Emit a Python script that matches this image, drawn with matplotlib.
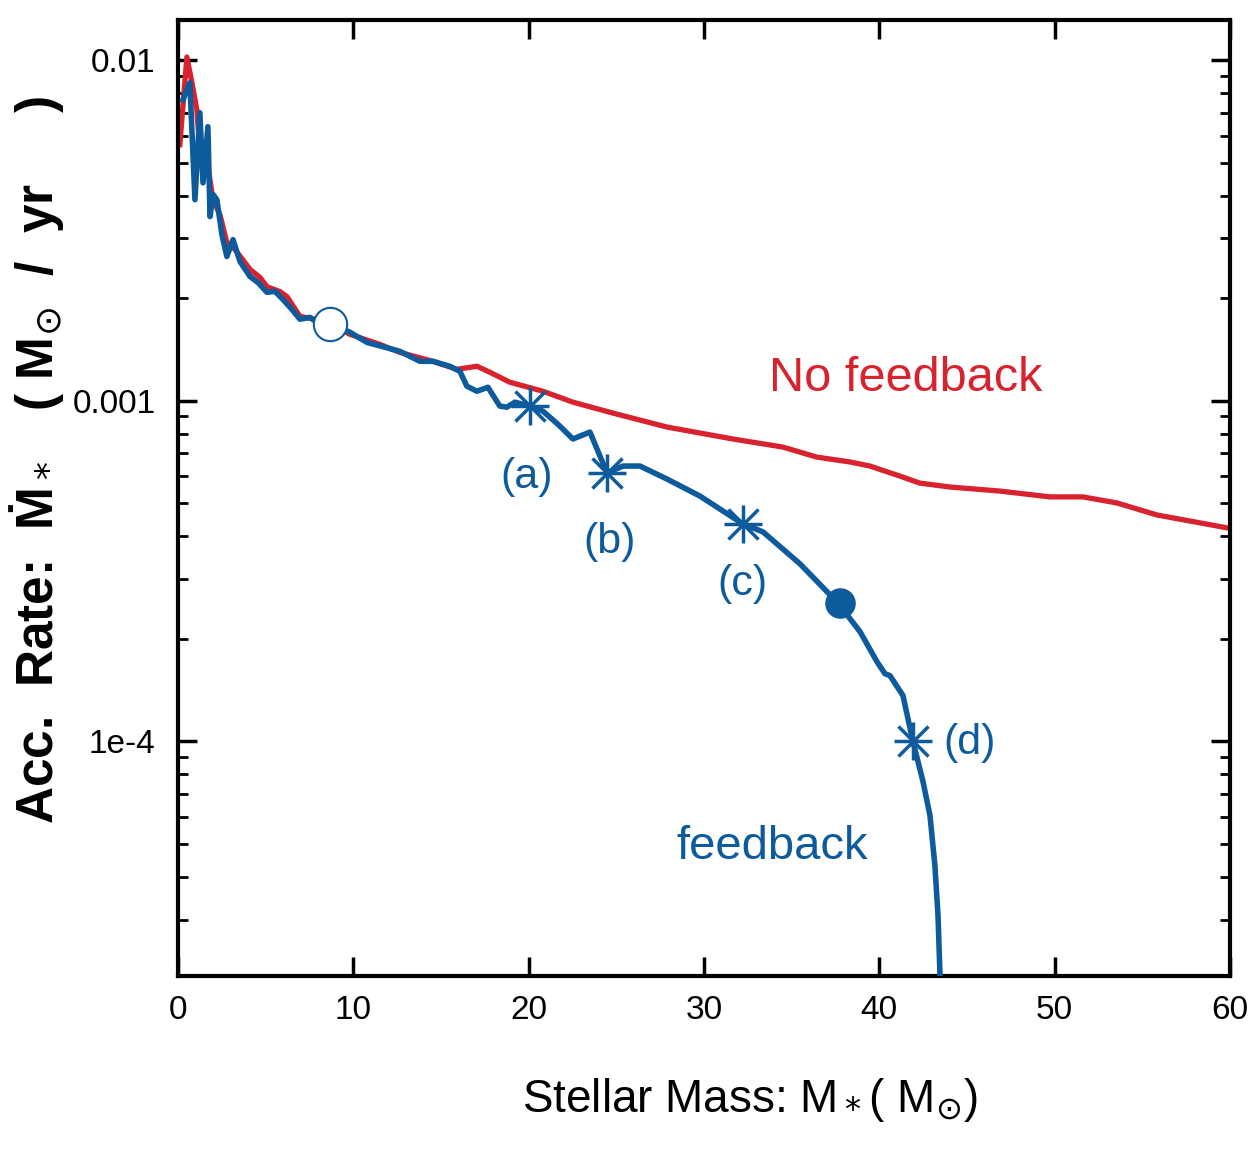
import numpy as np
import matplotlib
matplotlib.use("Agg")
import matplotlib.pyplot as plt
from matplotlib import font_manager

# no feedback run (red)
mass_nofb = [0.11, 0.51, 0.80, 1.08, 1.25, 1.65, 2.0, 2.40, 2.79, 3.25, 4.11, 4.68, 5.08,
             5.82, 6.22, 6.96, 7.81, 8.67, 9.81, 11.52, 12.66, 14.54, 15.91, 17.05, 17.79,
             18.93, 20.82, 22.53, 25.04, 27.89, 31.65, 34.50, 36.44, 38.33, 39.47, 41.17,
             42.31, 44.03, 46.88, 49.73, 51.62, 53.56, 55.84, 59.89, 60.5]
rate_nofb = [0.00564, 0.0102, 0.00857, 0.00714, 0.00545, 0.00510, 0.00389, 0.00351,
             0.00291, 0.00278, 0.00243, 0.00230, 0.00216, 0.00209, 0.00202, 0.001768,
             0.001734, 0.001675, 0.001566, 0.001463, 0.001386, 0.001305, 0.001236,
             0.001262, 0.001212, 0.001133, 0.001066, 0.000990, 0.000913, 0.000837,
             0.000772, 0.000731, 0.000683, 0.000661, 0.000643, 0.000601, 0.000573,
             0.000558, 0.000543, 0.000522, 0.000522, 0.000501, 0.000462, 0.000423, 0.00042]

# feedback run (blue)
mass_fb = [0.29, 0.68, 0.97, 1.25, 1.43, 1.71, 1.83, 2.0, 2.22, 2.51, 2.79, 3.14, 3.54,
           4.11, 4.56, 5.08, 5.53, 5.99, 6.50, 6.96, 7.53, 8.10, 8.67, 9.81, 10.78, 12.66,
           13.80, 14.54, 15.51, 16.08, 16.48, 17.05, 17.68, 18.36, 18.76, 19.22, 20.08,
           20.82, 21.67, 22.53, 23.50, 24.07, 24.47, 25.38, 26.35, 27.89, 29.77, 32.22,
           33.37, 35.48, 37.64, 38.90, 39.87, 40.32, 40.61, 41.35, 41.92, 42.49, 42.89,
           43.17, 43.35, 43.46, 43.6]
rate_fb = [0.00764, 0.00857, 0.00389, 0.00700, 0.00436, 0.00637, 0.00347, 0.00403,
           0.00389, 0.00307, 0.00265, 0.00297, 0.00256, 0.002315, 0.002223, 0.002080,
           0.002094, 0.001982, 0.001853, 0.001734, 0.001756, 0.001675, 0.001686,
           0.001588, 0.001483, 0.001396, 0.001305, 0.001305, 0.001262, 0.001220,
           0.001103, 0.001066, 0.001095, 0.000964, 0.000957, 0.000990, 0.000964,
           0.000931, 0.000853, 0.000772, 0.000809, 0.000688, 0.000614, 0.000643,
           0.000643, 0.000589, 0.000525, 0.000435, 0.000412, 0.000332, 0.000255,
           0.000210, 0.0001714, 0.0001581, 0.0001560, 0.0001364, 0.0001, 7.64e-5,
           6.07e-5, 4.34e-5, 3.09e-5, 2.08e-5, 1.5e-5]

# snapshots (a)-(d), open / filled circles
snap_mass = [20.08, 24.47, 32.22, 41.92]
snap_rate = [0.000964, 0.000614, 0.000435, 0.0001]
snap_labels = ['(a)', '(b)', '(c)', '(d)']
open_pt = (8.67, 0.00168)
filled_pt = (37.76, 0.000254)

red = '#d8232f'
blue = '#0d5a9c'

names = {f.name for f in font_manager.fontManager.ttflist}
fam = 'Liberation Sans Narrow' if 'Liberation Sans Narrow' in names else 'Liberation Sans'
plt.rcParams['font.family'] = [fam, 'DejaVu Sans']

fig = plt.figure(figsize=(12.53, 11.49), dpi=100)
ax = fig.add_axes([0.142, 0.1506, 0.8396, 0.832])

ax.plot(mass_nofb, rate_nofb, color=red, lw=3.8, zorder=2)
ax.plot(mass_fb, rate_fb, color=blue, lw=4.0, zorder=3)

ax.plot(*open_pt, 'o', ms=24, mfc='white', mec=blue, mew=1.5, zorder=4)
ax.plot(*filled_pt, 'o', ms=21, color=blue, zorder=4)
ax.plot(snap_mass, snap_rate, '+', ms=28, mew=2.5, color=blue, ls='none', zorder=4)
ax.plot(snap_mass, snap_rate, 'x', ms=21, mew=2.5, color=blue, ls='none', zorder=4)

# snapshot labels
offsets = [(-0.17, 0.62), (0.17, 0.628), (0.0, 0.667), (3.25, 0.99)]
for m, r, lab, (dx, fy) in zip(snap_mass, snap_rate, snap_labels, offsets):
    ax.text(m + dx, r * fy, lab, color=blue, fontsize=31, ha='center', va='center')

ax.text(41.5, 0.00116, 'No feedback', color=red, fontsize=35, ha='center', va='center')
ax.text(33.9, 4.9e-5, 'feedback', color=blue, fontsize=34, ha='center', va='center')

ax.set_yscale('log')
ax.set_xlim(0, 60)
ax.set_ylim(2.05e-5, 0.0131)
ax.set_xticks([0, 10, 20, 30, 40, 50, 60])
ax.set_yticks([1e-4, 1e-3, 1e-2])
ax.set_yticklabels(['1e-4', '0.001', '0.01'])

ax.tick_params(which='major', direction='in', length=14, width=2.5, top=True, right=True,
               labelsize=24, pad=14)
ax.tick_params(axis='y', which='major', pad=16)
ax.tick_params(which='minor', direction='in', length=7, width=2, left=True, right=True)
ax.tick_params(axis='x', which='minor', bottom=False, top=False)
for s in ax.spines.values():
    s.set_linewidth(3)

ax.set_xlabel('Stellar Mass: M$_*$( M$_{\\odot}$)', fontsize=33)
ax.xaxis.set_label_coords(0.544, -0.105)
ax.set_ylabel('Acc.  Rate:  \u1e40$_*$   ( M$_{\\odot}$  /  yr     )', fontsize=37,
              fontweight='bold')
ax.yaxis.set_label_coords(-0.106, 0.54)

fig.savefig('out.png', dpi=100)
